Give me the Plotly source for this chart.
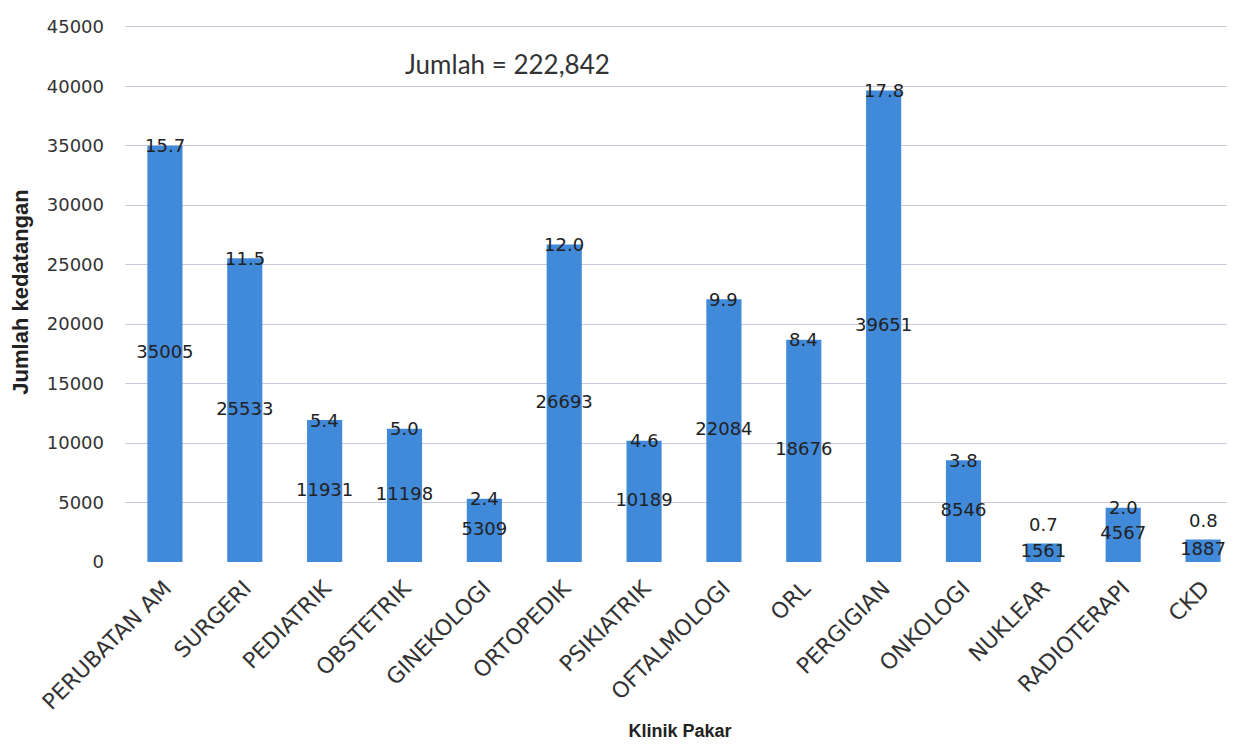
import plotly.graph_objects as go

categories = ["PERUBATAN AM", "SURGERI", "PEDIATRIK", "OBSTETRIK", "GINEKOLOGI",
              "ORTOPEDIK", "PSIKIATRIK", "OFTALMOLOGI", "ORL", "PERGIGIAN",
              "ONKOLOGI", "NUKLEAR", "RADIOTERAPI", "CKD"]
counts = [35005, 25533, 11931, 11198, 5309, 26693, 10189, 22084, 18676, 39651,
          8546, 1561, 4567, 1887]
percents = ["15.7", "11.5", "5.4", "5.0", "2.4", "12.0", "4.6", "9.9", "8.4", "17.8",
            "3.8", "0.7", "2.0", "0.8"]
y_ticks = [0, 5000, 10000, 15000, 20000, 25000, 30000, 35000, 40000, 45000]
total_text = "Jumlah = 222,842"

ARIAL = "Liberation Sans, Arial, sans-serif"
WIDE = "DejaVu Sans, sans-serif"
x_idx = list(range(len(categories)))

fig = go.Figure()
fig.add_trace(go.Bar(
    x=x_idx, y=counts, width=0.44,
    marker=dict(color="#4189d9", line=dict(width=0)),
    hoverinfo="skip", showlegend=False,
))
# count labels centred in the bars
fig.add_trace(go.Scatter(
    x=x_idx, y=[c / 2 for c in counts], mode="text", text=[str(c) for c in counts],
    textposition="middle center", textfont=dict(family=WIDE, size=18, color="#222222"),
    hoverinfo="skip", showlegend=False, cliponaxis=False,
))
# percentage labels at bar tops (lifted above very short bars)
for xi, c, p in zip(x_idx, counts, percents):
    fig.add_annotation(
        x=xi, y=c, xref="x", yref="y", text=p, showarrow=False,
        xanchor="center", yanchor="middle", yshift=(19 if c < 3000 else 0),
        font=dict(family=WIDE, size=18, color="#222222"),
    )

fig.add_annotation(
    x=0.345, y=0.922, xref="paper", yref="paper", text=total_text, showarrow=False,
    font=dict(family="Lato, sans-serif", size=26, color="#333333"),
    xanchor="center", yanchor="middle",
)

fig.update_layout(
    width=1235, height=747,
    margin=dict(l=117, r=8, t=9, b=193),
    paper_bgcolor="white", plot_bgcolor="white",
    font=dict(family=ARIAL, color="#333333"),
)
fig.update_xaxes(
    tickmode="array", tickvals=x_idx, ticktext=categories, tickangle=-45,
    range=[-0.5, 13.4], showgrid=False, zeroline=False, showline=False,
    tickfont=dict(family=WIDE, size=22, color="#333333"), ticklabelstandoff=8,
    title=dict(text="<b>Klinik Pakar</b>", font=dict(family=ARIAL, size=18, color="#222222"), standoff=10),
)
fig.update_yaxes(
    range=[0, 45400], tickmode="array", tickvals=y_ticks, ticktext=[str(v) for v in y_ticks],
    showgrid=True, gridcolor="#c9c9d9", gridwidth=1, zeroline=False, showline=False,
    tickfont=dict(family=WIDE, size=18, color="#333333"), ticklabelstandoff=20,
    title=dict(text="<b>Jumlah kedatangan</b>", font=dict(family=ARIAL, size=22, color="#222222"), standoff=14),
)

fig.write_html("out.html")
